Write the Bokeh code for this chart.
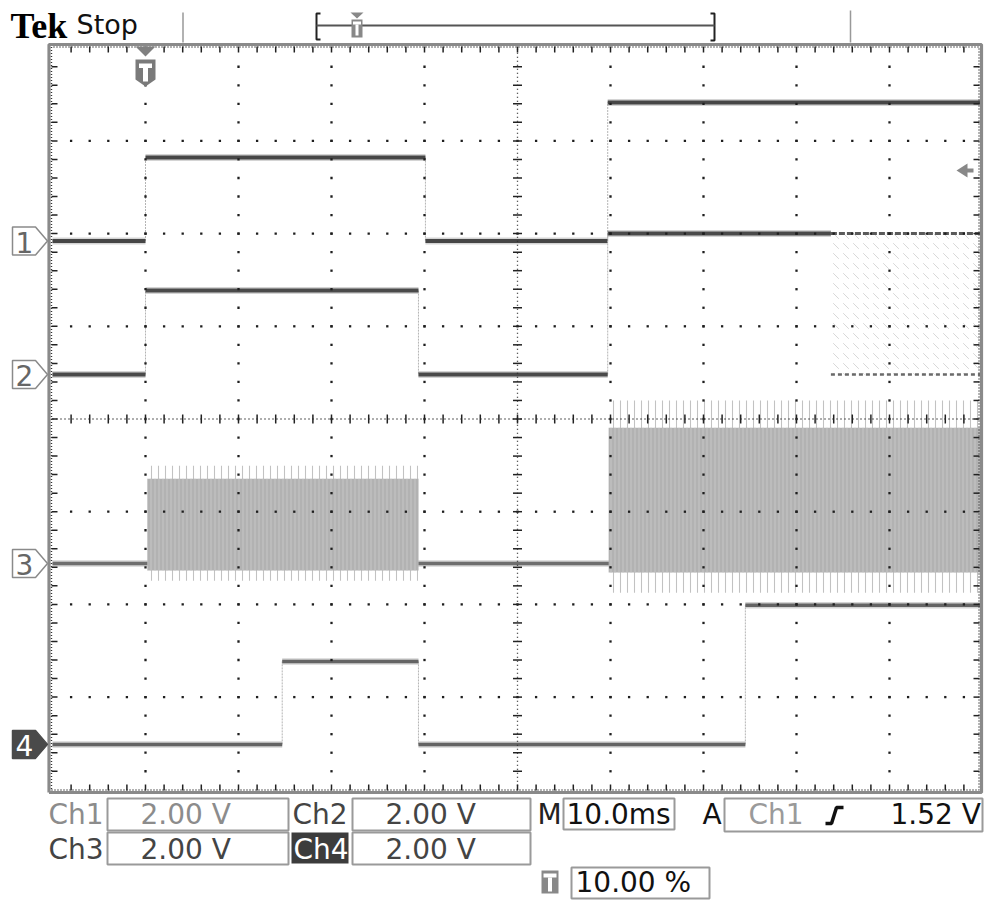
import numpy as np
from bokeh.plotting import figure
from bokeh.models import Range1d, Label
from bokeh.embed import file_html
from bokeh.resources import INLINE

# ------------------------------------------------------------------ data
MS_PER_DIV = 10.0
VOLTS_PER_DIV = 2.0
T_START = -10.0
T_END = 90.0
TRIG_POS_PCT = 10.00
TRIG_LEVEL_V = 1.52
TRIG_SOURCE = "Ch1"
STATUS = "Stop"

ch_names = ["1", "2", "3", "4"]
ch_offsets = [1.92, 0.48, -1.56, -3.51]          # ground markers, divisions

ch1_t = [-10.0, 0.0, 30.1, 49.7, 90.0]
ch1_v = [0.0, 1.80, 0.0, 2.99]

ch2_t = [-10.0, 0.0, 29.35, 49.7, 73.7]
ch2_v = [0.0, 1.81, 0.0, 3.04]
ch2_toggle_t = [73.7, 90.0]
ch2_toggle_v = [0.0, 3.04]

ch3_base_t = [-10.0, 90.0]
ch3_base_v = [0.0]
ch3_burst_start = [0.2, 49.8]
ch3_burst_end = [29.35, 90.0]
ch3_burst_top = [1.83, 2.93]
ch3_burst_bottom = [-0.15, -0.19]
ch3_spike_top = [2.11, 3.52]
ch3_spike_bottom = [-0.37, -0.63]

ch4_t = [-10.0, 14.7, 29.35, 64.5, 90.0]
ch4_v = [0.0, 1.79, 0.0, 3.00]

# ------------------------------------------------------------------ layout helpers (reference px -> data)
GX0, GX1 = 52.0, 982.0
GYC, GPY = 418.5, 92.7
W, H = 986, 902


def X(px):
    return T_START + (px - GX0) / (GX1 - GX0) * (T_END - T_START)


def Y(py):
    return (GYC - py) / GPY


def DY(d):
    return d / GPY


p = figure(width=W, height=H,
           x_range=Range1d(X(0), X(W)), y_range=Range1d(Y(H), Y(0)),
           output_backend="svg", toolbar_location=None, min_border=0,
           x_axis_location=None, y_axis_location=None,
           background_fill_color="white", border_fill_color="white")
p.grid.visible = False
p.outline_line_color = None

SANS = "DejaVu Sans"

# ------------------------------------------------------------------ traces
def draw_steps(t, v, off, color, width, halo="#a0a0a0"):
    ys = [off + vv / VOLTS_PER_DIV for vv in v]
    if len(t) > 2:
        p.segment(x0=t[1:len(v)], y0=ys[:-1], x1=t[1:len(v)], y1=ys[1:],
                  line_color="#b4b4b4", line_width=1, line_dash="2 1")
    p.segment(x0=t[:-1], y0=ys, x1=t[1:], y1=ys, line_color=halo,
              line_width=width + 3, line_alpha=0.45)
    p.segment(x0=t[:-1], y0=ys, x1=t[1:], y1=ys, line_color=color,
              line_width=width)


o1, o2, o3, o4 = ch_offsets

# Ch3 baseline + bursts
draw_steps(ch3_base_t, ch3_base_v, o3, "#6e6e6e", 3.5)
p.quad(left=ch3_burst_start, right=ch3_burst_end,
       bottom=[o3 + v / VOLTS_PER_DIV for v in ch3_spike_bottom],
       top=[o3 + v / VOLTS_PER_DIV for v in ch3_spike_top],
       fill_alpha=0, line_color=None, hatch_pattern="|",
       hatch_color="#c2c2c2", hatch_scale=7, hatch_weight=1.1)
p.quad(left=ch3_burst_start, right=ch3_burst_end,
       bottom=[o3 + v / VOLTS_PER_DIV for v in ch3_burst_bottom],
       top=[o3 + v / VOLTS_PER_DIV for v in ch3_burst_top],
       fill_color="#b2b2b2", line_color=None, hatch_pattern="|",
       hatch_color="#c6c6c6", hatch_scale=4, hatch_weight=1)

draw_steps(ch1_t, ch1_v, o1, "#464646", 4)
draw_steps(ch2_t, ch2_v, o2, "#4a4a4a", 4)
draw_steps(ch4_t, ch4_v, o4, "#646464", 3.5)

# Ch2 fast toggling region
tlo = o2 + ch2_toggle_v[0] / VOLTS_PER_DIV
thi = o2 + ch2_toggle_v[1] / VOLTS_PER_DIV
p.quad(left=[ch2_toggle_t[0]], right=[ch2_toggle_t[1]], bottom=[tlo], top=[thi],
       fill_alpha=0, line_color=None, hatch_pattern="`", hatch_color="#a8a8a8",
       hatch_alpha=0.45, hatch_scale=10, hatch_weight=1)
p.segment(x0=[ch2_toggle_t[0]], x1=[ch2_toggle_t[1]], y0=[thi], y1=[thi],
          line_color="#5a5a5a", line_width=3, line_dash="6 2")
p.segment(x0=[ch2_toggle_t[0]], x1=[ch2_toggle_t[1]], y0=[tlo], y1=[tlo],
          line_color="#6a6a6a", line_width=2.5, line_dash="4 3")

# ------------------------------------------------------------------ graticule
center_t = T_START + 5 * MS_PER_DIV
major_t = [T_START + k * MS_PER_DIV for k in range(11)]
minor_t = [T_START + k * MS_PER_DIV / 5 for k in range(51)]
major_y = list(range(-4, 5))
minor_y = [-4 + k * 0.2 for k in range(41)]

gx, gy = [], []
for t in major_t[1:-1]:
    if abs(t - center_t) < 1e-9:
        continue
    for yy in minor_y[1:-1]:
        gx.append(t)
        gy.append(yy)
for yy in major_y[1:-1]:
    if yy == 0:
        continue
    for t in minor_t[1:-1]:
        gx.append(t)
        gy.append(yy)
p.scatter(gx, gy, marker="square", size=2.3, fill_color="#1e1e1e", line_color=None)

p.line([T_START, T_END], [0, 0], line_color="#2a2a2a", line_width=1.3, line_dash="1 3")
p.line([center_t, center_t], [-4, 4], line_color="#2a2a2a", line_width=1.3, line_dash="1 3")
p.scatter(minor_t[1:-1], [0] * 49, marker="dash", angle=np.pi / 2, size=9,
          line_color="#222", line_width=1.5)
p.scatter([center_t] * 39, minor_y[1:-1], marker="dash", size=9,
          line_color="#222", line_width=1.5)

bx0, bx1, by0, by1 = X(48.5), X(981), Y(792), Y(44)
p.line([bx0, bx1, bx1, bx0, bx0], [by0, by0, by1, by1, by0],
       line_color="#8a8a8a", line_width=3.2)
ix0, ix1, iy0, iy1 = X(51), X(978.5), Y(789.5), Y(46.5)
p.line([ix0, ix1, ix1, ix0, ix0], [iy0, iy0, iy1, iy1, iy0],
       line_color="#333", line_width=1.4, line_dash="1 2")
p.scatter(minor_t[1:-1], [Y(49)] * 49, marker="dash", angle=np.pi / 2, size=6,
          line_color="#222", line_width=1.5)
p.scatter(minor_t[1:-1], [Y(787)] * 49, marker="dash", angle=np.pi / 2, size=6,
          line_color="#222", line_width=1.5)
p.scatter([X(54)] * 39, minor_y[1:-1], marker="dash", size=6,
          line_color="#222", line_width=1.5)
p.scatter([X(976)] * 39, minor_y[1:-1], marker="dash", size=6,
          line_color="#222", line_width=1.5)

# ------------------------------------------------------------------ channel ground markers
for name, off in zip(ch_names, ch_offsets):
    filled = name == "4"
    xs = [X(12), X(35), X(47), X(35), X(12)]
    ys = [off + DY(14), off + DY(14), off, off - DY(14), off - DY(14)]
    p.patch(xs, ys, fill_color="#4a4a4a" if filled else "white",
            line_color="#4a4a4a" if filled else "#8a8a8a", line_width=1.5)
    p.add_layout(Label(x=X(24), y=off - DY(1), text=name, text_align="center",
                       text_baseline="middle", text_font=SANS, text_font_size="28px",
                       text_color="white" if filled else "#666666"))

# ------------------------------------------------------------------ trigger markers
tp = T_START + TRIG_POS_PCT / 100 * (T_END - T_START)
tw = 10 * (T_END - T_START) / (GX1 - GX0)  # 10 px in ms
p.patch([tp - tw, tp + tw, tp], [Y(46), Y(46), Y(56)], fill_color="#808080", line_color=None)
p.patch([tp - tw, tp + tw, tp + tw, tp, tp - tw], [Y(59), Y(59), Y(79), Y(86), Y(79)],
        fill_color="#7a7a7a", line_color=None)
p.quad(left=[tp - 0.65 * tw], right=[tp + 0.65 * tw], bottom=[Y(67.5)], top=[Y(63)],
       fill_color="white", line_color=None)
p.quad(left=[tp - 0.25 * tw], right=[tp + 0.25 * tw], bottom=[Y(81)], top=[Y(67.5)],
       fill_color="white", line_color=None)

ty = o1 + TRIG_LEVEL_V / VOLTS_PER_DIV
p.patch([X(956), X(967), X(967)], [ty, ty + DY(7), ty - DY(7)], fill_color="#888", line_color=None)
p.quad(left=[X(966)], right=[X(973)], bottom=[ty - DY(2)], top=[ty + DY(2)],
       fill_color="#888", line_color=None)

# ------------------------------------------------------------------ top bar
p.add_layout(Label(x=X(10), y=Y(25), text="Tek", text_font="Liberation Serif",
                   text_font_style="bold", text_font_size="36px", text_color="#000",
                   text_baseline="middle"))
p.add_layout(Label(x=X(76), y=Y(24), text=STATUS, text_font=SANS,
                   text_font_size="27px", text_color="#111", text_baseline="middle"))
p.line([X(182.5)] * 2, [Y(12), Y(42)], line_color="#999", line_width=1.5)
p.line([X(850)] * 2, [Y(10), Y(42)], line_color="#999", line_width=1.5)
p.line([X(320), X(316), X(316), X(320)], [Y(13), Y(13), Y(39), Y(39)],
       line_color="#222", line_width=2)
p.line([X(710), X(714), X(714), X(710)], [Y(13), Y(13), Y(40), Y(40)],
       line_color="#222", line_width=2)
p.line([X(316), X(714)], [Y(25), Y(25)], line_color="#555", line_width=2)
p.patch([X(350), X(363), X(356.5)], [Y(12), Y(12), Y(18)], fill_color="#888", line_color=None)
p.quad(left=[X(351)], right=[X(362)], bottom=[Y(37)], top=[Y(19)], fill_color="#888", line_color=None)
p.quad(left=[X(352.5)], right=[X(360.5)], bottom=[Y(24)], top=[Y(21)], fill_color="white", line_color=None)
p.quad(left=[X(355)], right=[X(358)], bottom=[Y(35)], top=[Y(24)], fill_color="white", line_color=None)

# ------------------------------------------------------------------ status area
scale_txt = f"{VOLTS_PER_DIV:.2f} V"
boxes = [(107, 288, 798, 830), (352, 530, 798, 830), (563, 674, 798, 829),
         (724, 982, 798, 831), (107, 288, 832, 864), (352, 530, 832, 864),
         (571, 709, 867, 898)]
p.quad(left=[X(b[0]) for b in boxes], right=[X(b[1]) for b in boxes],
       bottom=[Y(b[3]) for b in boxes], top=[Y(b[2]) for b in boxes],
       fill_alpha=0, line_color="#9a9a9a", line_width=2)
p.quad(left=[X(291)], right=[X(348)], bottom=[Y(863)], top=[Y(832)],
       fill_color="#3c3c3c", line_color=None)
p.quad(left=[X(541)], right=[X(558)], bottom=[Y(893)], top=[Y(870)],
       fill_color="#888", line_color=None)
p.quad(left=[X(543)], right=[X(556)], bottom=[Y(877)], top=[Y(873)],
       fill_color="white", line_color=None)
p.quad(left=[X(547.5)], right=[X(551.5)], bottom=[Y(891)], top=[Y(877)],
       fill_color="white", line_color=None)
p.line([X(825), X(831), X(836), X(843)], [Y(823), Y(823), Y(807), Y(807)],
       line_color="#111", line_width=3.5)

R1, R2, R3 = 813.5, 848.5, 882
status_texts = [
    ("Ch1", 48, R1, "#8c8c8c"), (scale_txt, 140, R1, "#8c8c8c"),
    ("Ch2", 292, R1, "#444444"), (scale_txt, 385, R1, "#444444"),
    ("M", 537, R1, "#222222"), (f"{MS_PER_DIV:.1f}ms", 566, R1, "#111111"),
    ("A", 702, R1, "#111111"), (TRIG_SOURCE, 748, R1, "#9a9a9a"),
    (f"{TRIG_LEVEL_V:.2f} V", 890, R1, "#111111"),
    ("Ch3", 48, R2, "#444444"), (scale_txt, 140, R2, "#444444"),
    ("Ch4", 293, R2, "#ffffff"), (scale_txt, 385, R2, "#444444"),
    (f"{TRIG_POS_PCT:.2f} %", 575, R3, "#111111"),
]
for txt, px, py, col in status_texts:
    p.add_layout(Label(x=X(px), y=Y(py), text=txt, text_font=SANS,
                       text_font_size="28px", text_color=col,
                       text_baseline="middle"))

open("out.html", "w").write(file_html(p, INLINE))
